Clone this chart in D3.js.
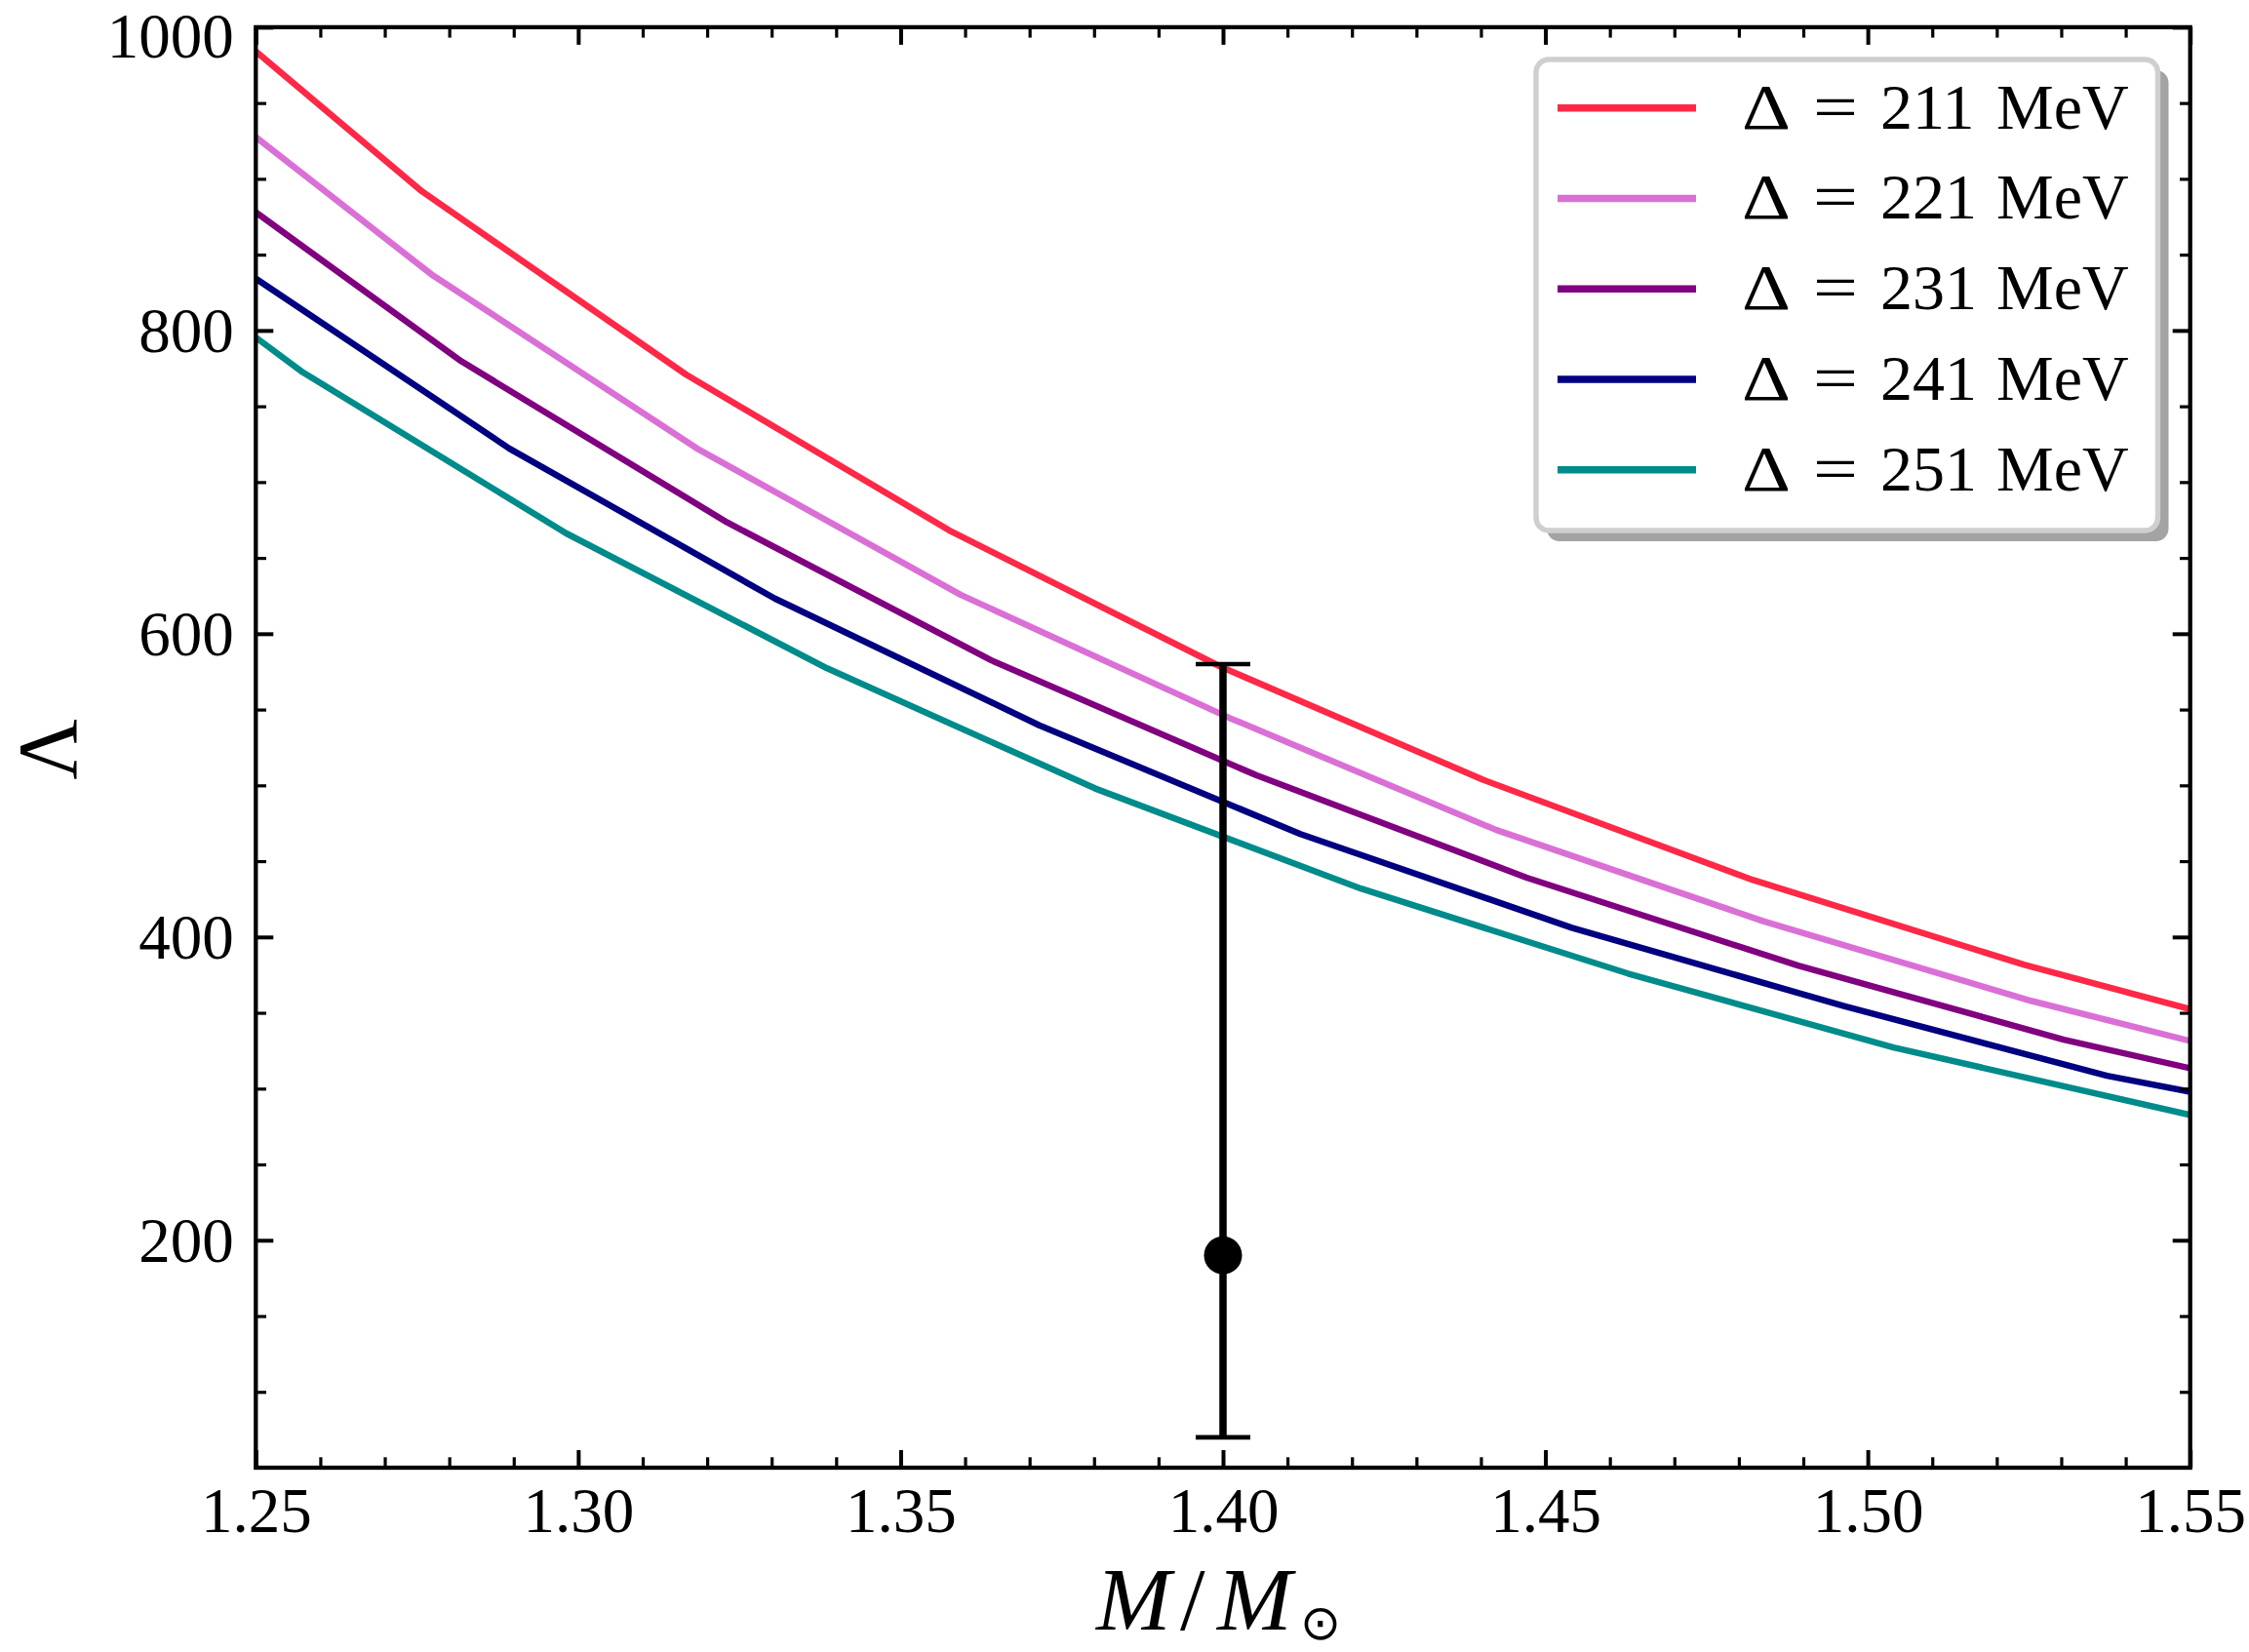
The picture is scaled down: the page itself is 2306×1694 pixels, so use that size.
<!DOCTYPE html>
<html>
<head>
<meta charset="utf-8">
<script src="https://cdn.jsdelivr.net/npm/d3@7"></script>
<style>
  html, body { margin: 0; padding: 0; background: #ffffff; }
  svg { display: block; }
</style>
</head>
<body>
<div id="chart"></div>
<script>
// ---------------- data ----------------
const deltas = [211, 221, 231, 241, 251];
const seriesColors = ["#ff2846", "#da70d6", "#800080", "#000080", "#008b8b"];

const lambda211 = [[1.25,984],[1.2758,891.6],[1.3167,771],[1.3579,667.3],[1.3995,578.5],[1.4403,503.7],[1.4821,437.7],[1.5243,381.6],[1.55,352.4]];
const lambda221 = [[1.25,927.5],[1.2772,837.1],[1.3184,722.2],[1.3593,625.7],[1.401,544.5],[1.4423,470.7],[1.4838,410.4],[1.5253,357.9],[1.55,331.4]];
const lambda231 = [[1.25,877.9],[1.2819,779.6],[1.3231,673.4],[1.3640,582.6],[1.4052,506.6],[1.4471,439.1],[1.4892,381.1],[1.5304,332.3],[1.55,313.4]];
const lambda241 = [[1.25,834.2],[1.2893,722.2],[1.3305,623.2],[1.3715,539.6],[1.4120,467.9],[1.4541,406.1],[1.4963,354.4],[1.5371,308.5],[1.55,297.9]];
const lambda251 = [[1.25,795.4],[1.2573,772.4],[1.2981,666.3],[1.3386,577.2],[1.3802,497.9],[1.4214,431.9],[1.4628,375.9],[1.5040,327.1],[1.55,282.6]];
const allSeries = [lambda211, lambda221, lambda231, lambda241, lambda251];

// GW170817 constraint: Lambda(1.4) = 190 +390 -120
const obsMass = [1.40];
const obsLambda = [190];
const obsLow = [70];
const obsHigh = [580];

const xTicks = [1.25, 1.30, 1.35, 1.40, 1.45, 1.50, 1.55];
const xTickLabels = ["1.25", "1.30", "1.35", "1.40", "1.45", "1.50", "1.55"];
const yTicks = [200, 400, 600, 800, 1000];
const yTickLabels = ["200", "400", "600", "800", "1000"];

// ---------------- layout ----------------
const W = 2306, H = 1694;
const L = 262.3, R = 2245.7, T = 27.9, B = 1505;
const FONT = "'Liberation Serif', 'DejaVu Serif', serif";

const svg = d3.select("#chart").append("svg")
  .attr("width", W).attr("height", H)
  .attr("viewBox", `0 0 ${W} ${H}`);
svg.append("rect").attr("width", W).attr("height", H).attr("fill", "#fff");

const x = d3.scaleLinear().domain([1.25, 1.55]).range([L, R]);
const y = d3.scaleLinear().domain([50, 1000]).range([B, T]);

const xMinor = d3.range(0, 31).map(i => 1.25 + i * 0.01).filter(v => Math.abs(v * 20 - Math.round(v * 20)) > 1e-6);
const yMinor = d3.range(100, 1001, 50).filter(v => v % 200 !== 0);

svg.append("clipPath").attr("id", "plotclip")
  .append("rect").attr("x", L).attr("y", T).attr("width", R - L).attr("height", B - T);

// ---------------- curves ----------------
const line = d3.line().x(d => x(d[0])).y(d => y(d[1]));
const curves = svg.append("g").attr("clip-path", "url(#plotclip)");
allSeries.forEach((s, i) => {
  curves.append("path")
    .attr("d", line(s))
    .attr("fill", "none")
    .attr("stroke", seriesColors[i])
    .attr("stroke-width", 6.5)
    .attr("stroke-linejoin", "round");
});

// ---------------- error bar ----------------
const eb = svg.append("g");
obsMass.forEach((m, i) => {
  eb.append("line")
    .attr("x1", x(m)).attr("x2", x(m))
    .attr("y1", y(obsLow[i])).attr("y2", y(obsHigh[i]))
    .attr("stroke", "#000").attr("stroke-width", 7.5);
  [obsLow[i], obsHigh[i]].forEach(v => {
    eb.append("line")
      .attr("x1", x(m) - 28).attr("x2", x(m) + 28)
      .attr("y1", y(v)).attr("y2", y(v))
      .attr("stroke", "#000").attr("stroke-width", 4.6);
  });
  eb.append("circle")
    .attr("cx", x(m)).attr("cy", y(obsLambda[i])).attr("r", 19.5)
    .attr("fill", "#000");
});

// ---------------- axes ----------------
function styleAxis(g, width) {
  g.select(".domain").remove();
  g.selectAll(".tick line").attr("stroke", "#000").attr("stroke-width", width);
}
const MAJ = 18, MIN = 10.7;

// bottom
const gb = svg.append("g").attr("transform", `translate(0,${B})`)
  .call(d3.axisBottom(x).tickValues(xTicks).tickSize(-MAJ).tickSizeOuter(0)
    .tickFormat((d, i) => xTickLabels[i]));
styleAxis(gb, 4);
gb.selectAll(".tick text")
  .attr("y", 65.7).attr("dy", null)
  .attr("font-family", FONT).attr("font-size", 65).attr("fill", "#000");
svg.append("g").attr("transform", `translate(0,${B})`)
  .call(d3.axisBottom(x).tickValues(xMinor).tickSize(-MIN).tickSizeOuter(0).tickFormat(""))
  .call(g => styleAxis(g, 3.2));

// top
svg.append("g").attr("transform", `translate(0,${T})`)
  .call(d3.axisTop(x).tickValues(xTicks).tickSize(-MAJ).tickSizeOuter(0).tickFormat(""))
  .call(g => styleAxis(g, 4));
svg.append("g").attr("transform", `translate(0,${T})`)
  .call(d3.axisTop(x).tickValues(xMinor).tickSize(-MIN).tickSizeOuter(0).tickFormat(""))
  .call(g => styleAxis(g, 3.2));

// left
const gl = svg.append("g").attr("transform", `translate(${L},0)`)
  .call(d3.axisLeft(y).tickValues(yTicks).tickSize(-MAJ).tickSizeOuter(0)
    .tickFormat((d, i) => yTickLabels[i]));
styleAxis(gl, 4);
gl.selectAll(".tick text")
  .attr("x", -22.5).attr("dy", "0.34em")
  .attr("font-family", FONT).attr("font-size", 65).attr("fill", "#000");
// keep the topmost label's text box inside the canvas
gl.selectAll(".tick text").filter(d => d === 1000).attr("y", 8.5);
svg.append("g").attr("transform", `translate(${L},0)`)
  .call(d3.axisLeft(y).tickValues(yMinor).tickSize(-MIN).tickSizeOuter(0).tickFormat(""))
  .call(g => styleAxis(g, 3.2));

// right
svg.append("g").attr("transform", `translate(${R},0)`)
  .call(d3.axisRight(y).tickValues(yTicks).tickSize(-MAJ).tickSizeOuter(0).tickFormat(""))
  .call(g => styleAxis(g, 4));
svg.append("g").attr("transform", `translate(${R},0)`)
  .call(d3.axisRight(y).tickValues(yMinor).tickSize(-MIN).tickSizeOuter(0).tickFormat(""))
  .call(g => styleAxis(g, 3.2));

// frame
svg.append("rect")
  .attr("x", L).attr("y", T).attr("width", R - L).attr("height", B - T)
  .attr("fill", "none").attr("stroke", "#000").attr("stroke-width", 4.3);

// ---------------- axis labels ----------------
const xl = svg.append("text")
  .attr("y", 1671).attr("font-family", FONT).attr("font-size", 92).attr("fill", "#000");
xl.append("tspan").attr("x", 1124).attr("font-style", "italic").text("M");
xl.append("tspan").attr("x", 1210).text("/");
xl.append("tspan").attr("x", 1248).attr("font-style", "italic").text("M");
xl.append("tspan").attr("x", 1333).attr("y", 1681)
  .attr("font-family", "'DejaVu Sans', sans-serif").attr("font-size", 50).text("\u2299");

svg.append("text")
  .attr("transform", `translate(78,${(T + B) / 2 + 2}) rotate(-90)`)
  .attr("text-anchor", "middle")
  .attr("font-family", FONT).attr("font-size", 86).attr("fill", "#000")
  .text("\u039B");

// ---------------- legend ----------------
const lg = svg.append("g");
const bx = 1575, by = 61, bw = 2212.5 - 1575, bh = 544 - 61;
lg.append("rect")
  .attr("x", bx + 11).attr("y", by + 11).attr("width", bw).attr("height", bh)
  .attr("rx", 13).attr("fill", "#a3a3a3");
lg.append("rect")
  .attr("x", bx).attr("y", by).attr("width", bw).attr("height", bh)
  .attr("rx", 13).attr("fill", "#fff").attr("stroke", "#cfcfcf").attr("stroke-width", 5.4);

const rowStep = 92.75;
deltas.forEach((dv, i) => {
  const cy = 110.7 + i * rowStep;
  const base = 131.7 + i * rowStep;
  lg.append("line")
    .attr("x1", 1597).attr("x2", 1739).attr("y1", cy).attr("y2", cy)
    .attr("stroke", seriesColors[i]).attr("stroke-width", 7.5);
  const t = lg.append("text").attr("y", base)
    .attr("font-family", FONT).attr("font-size", 66).attr("fill", "#000");
  t.append("tspan").attr("x", 1786).attr("textLength", 50).attr("lengthAdjust", "spacingAndGlyphs").text("\u0394");
  t.append("tspan").attr("x", 1859).attr("textLength", 46).attr("lengthAdjust", "spacingAndGlyphs").text("=");
  t.append("tspan").attr("x", 1928).text(String(dv));
  t.append("tspan").attr("x", 2047).text("MeV");
});
</script>
</body>
</html>
